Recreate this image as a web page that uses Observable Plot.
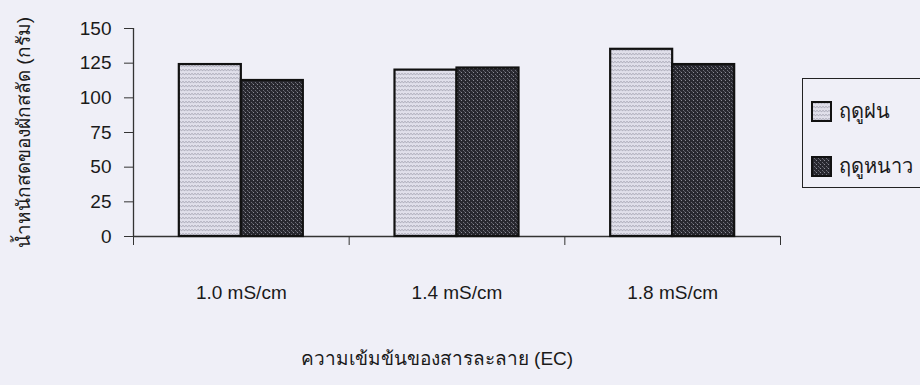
<!DOCTYPE html>
<html>
<head>
<meta charset="utf-8">
<script src="https://cdn.jsdelivr.net/npm/d3@7"></script>
<script src="https://cdn.jsdelivr.net/npm/@observablehq/plot@0.6"></script>
<style>
  html, body { margin: 0; padding: 0; background: #efeff7; }
  #chart { position: relative; width: 920px; height: 385px; overflow: hidden;
           font-family: "Liberation Sans", Arial, sans-serif; color: #1a1a1a; }
  #chart > svg { position: absolute; left: 0; top: 0; }
  .legend { position: absolute; left: 802px; top: 78px; width: 150px; height: 110px;
            border: 1.5px solid #222; box-sizing: border-box; }
  .legend .item { position: absolute; left: 8px; display: flex; align-items: center; gap: 7px;
                  font-size: 20px; white-space: nowrap; }
  .legend .item svg { display: block; }
</style>
</head>
<body>
<!-- fill textures shared by the bars and the legend swatches -->
<svg width="0" height="0" style="position:absolute">
  <defs>
    <pattern id="rainyFill" width="6" height="4" patternUnits="userSpaceOnUse">
      <rect width="6" height="4" fill="#e0dfea"/>
      <path d="M0 1.5 L1.5 2.6 L3 1.5 L4.5 2.6 L6 1.5" stroke="#9695a3" stroke-width="0.8" fill="none"/>
    </pattern>
    <pattern id="winterFill" width="4" height="4" patternUnits="userSpaceOnUse">
      <rect width="4" height="4" fill="#28282f"/>
      <rect x="1" y="0" width="1" height="1" fill="#8c8c96"/>
      <rect x="3" y="2" width="1" height="1" fill="#6e6e78"/>
      <rect x="0" y="3" width="1" height="1" fill="#56565f"/>
    </pattern>
  </defs>
</svg>
<div id="chart"></div>
<script>
// EC levels of the nutrient solution
const ecLabels = ["1.0 mS/cm", "1.4 mS/cm", "1.8 mS/cm"];
const ecValues = [1.0, 1.4, 1.8];
// growing seasons
const seasons = ["ฤดูฝน", "ฤดูหนาว"];
// fresh weight of lettuce (g)
const rainyWeight = [124, 120, 135];
const winterWeight = [112.5, 121.5, 124];
const yTicks = [0, 25, 50, 75, 100, 125, 150];
const yTitle = "น้ำหนักสดของผักสลัด (กรัม)";
const xTitle = "ความเข้มข้นของสารละลาย (EC)";

const ecStep = ecValues[1] - ecValues[0];
const barWidth = 0.115; // width of one bar, in EC units
const boundaries = [...ecValues.map(v => v - ecStep / 2), ecValues[ecValues.length - 1] + ecStep / 2];

const rows = ecValues.flatMap((ec, i) => [
  {ec, season: seasons[0], weight: rainyWeight[i], x1: ec - barWidth, x2: ec},
  {ec, season: seasons[1], weight: winterWeight[i], x1: ec, x2: ec + barWidth}
]);

const fills = ["url(#rainyFill)", "url(#winterFill)"];
const font = "'Liberation Sans', Arial, sans-serif";

const main = Plot.plot({
  width: 920,
  height: 385,
  marginLeft: 133,
  marginRight: 140,
  marginTop: 28,
  marginBottom: 149,
  style: {background: "transparent", fontFamily: font, fontSize: "19px", color: "#1a1a1a"},
  x: {domain: [boundaries[0], boundaries[boundaries.length - 1]]},
  y: {domain: [0, 150]},
  color: {domain: seasons, range: fills},
  marks: [
    // axis lines
    Plot.ruleX([boundaries[0]], {stroke: "#333", strokeWidth: 1.3}),
    Plot.ruleY([0], {stroke: "#333", strokeWidth: 1.3}),
    Plot.axisY({ticks: yTicks, tickSize: 9, tickPadding: 13, label: null, fontSize: 19, stroke: "#333"}),
    Plot.axisX({ticks: boundaries, tickSize: 9, tickFormat: () => "", label: null, stroke: "#333"}),
    Plot.rectY(rows, {x1: "x1", x2: "x2", y: "weight", fill: "season", stroke: "#111", strokeWidth: 2.2}),
    Plot.text(ecLabels, {x: (d, i) => ecValues[i], frameAnchor: "bottom", dy: 62, fontSize: 19}),
    Plot.text([yTitle], {frameAnchor: "left", textAnchor: "middle", rotate: -90, dx: -110, fontSize: 19, lineAnchor: "middle"}),
    Plot.text([xTitle], {frameAnchor: "bottom", dx: -20, dy: 128, fontSize: 19})
  ]
});

const chart = document.getElementById("chart");
chart.appendChild(main);

// legend box to the right of the plot
const legend = document.createElement("div");
legend.className = "legend";
seasons.forEach((s, i) => {
  const item = document.createElement("div");
  item.className = "item";
  item.style.top = (i === 0 ? 16 : 71) + "px";
  item.innerHTML = `<svg width="21" height="21"><rect x="1" y="1" width="19" height="19" fill="${fills[i]}" stroke="#111" stroke-width="2"/></svg><span>${s}</span>`;
  legend.appendChild(item);
});
chart.appendChild(legend);
</script>
</body>
</html>
